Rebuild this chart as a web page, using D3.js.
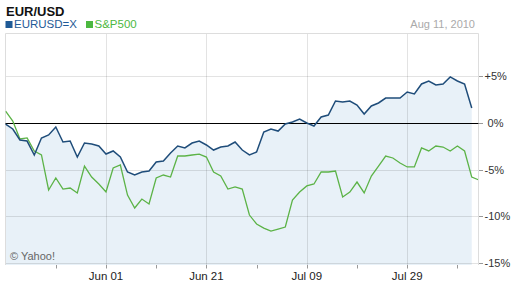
<!DOCTYPE html>
<html>
<head>
<meta charset="utf-8">
<script src="https://cdn.jsdelivr.net/npm/d3@7"></script>
<style>
  body { margin: 0; background: #fff; }
  text { font-family: "Liberation Sans", Arial, sans-serif; }
</style>
</head>
<body>
<div class="container"></div>
<script>
// trading days (weekdays) May 12 - Aug 12, 2010
var dates = [
  "May 12","May 13","May 14","May 17","May 18","May 19","May 20","May 21","May 24","May 25","May 26","May 27","May 28","May 31",
  "Jun 01","Jun 02","Jun 03","Jun 04","Jun 07","Jun 08","Jun 09","Jun 10","Jun 11","Jun 14","Jun 15","Jun 16","Jun 17","Jun 18",
  "Jun 21","Jun 22","Jun 23","Jun 24","Jun 25","Jun 28","Jun 29","Jun 30","Jul 01","Jul 02","Jul 05","Jul 06","Jul 07","Jul 08",
  "Jul 09","Jul 12","Jul 13","Jul 14","Jul 15","Jul 16","Jul 19","Jul 20","Jul 21","Jul 22","Jul 23","Jul 26","Jul 27","Jul 28",
  "Jul 29","Jul 30","Aug 02","Aug 03","Aug 04","Aug 05","Aug 06","Aug 09","Aug 10","Aug 11","Aug 12"
];

// % change, EURUSD=X
var eurusd = [
  -0.13,-0.66,-1.84,-1.95,-3.44,-1.63,-1.30,-0.45,-2.05,-1.95,-3.66,-2.16,-2.27,-2.48,
  -3.34,-3.01,-3.66,-5.26,-5.58,-5.26,-5.15,-4.19,-4.08,-3.23,-2.48,-2.69,-2.16,-1.95,
  -2.37,-2.91,-2.59,-2.48,-2.05,-2.91,-3.44,-3.12,-0.98,-0.66,-0.88,-0.13,0.09,0.41,
  -0.02,-0.34,0.62,0.83,2.33,2.22,2.33,1.90,0.94,1.80,2.12,2.65,2.65,2.65,
  3.29,3.08,4.15,4.47,4.04,4.15,4.90,4.47,4.15,1.58
];

// % change, S&P500
var sp500 = [
  1.26,0.19,-1.73,-1.62,-3.01,-3.44,-7.18,-5.90,-7.08,-6.97,-7.50,-4.62,-5.80,-6.54,
  -7.40,-4.83,-4.51,-7.72,-9.11,-8.15,-8.68,-5.90,-5.58,-5.80,-3.55,-3.55,-3.44,-3.34,
  -3.66,-5.26,-5.69,-7.08,-6.86,-7.08,-9.86,-10.82,-11.25,-11.57,-11.36,-11.14,-8.25,-7.40,
  -6.75,-6.54,-5.26,-5.26,-5.15,-7.93,-7.40,-6.33,-7.50,-5.69,-4.62,-3.55,-3.76,-4.30,
  -4.72,-4.72,-2.69,-3.01,-2.48,-2.59,-3.01,-2.48,-3.01,-5.80,-6.11
];

var yTicks = [5, 0, -5, -10, -15];
var yTickLabels = ["+5%", "\u00a00%", "-5%", "-10%", "-15%"];
var xLabelDates = ["Jun 01", "Jun 21", "Jul 09", "Jul 29"];
var xMinorDates = ["May 21", "Jun 10", "Jun 30", "Jul 20", "Aug 09"];

////////////////////////////////////////////////////////////////
// STAGE
////////////////////////////////////////////////////////////////
var W = 521, H = 289;
var pLeft = 5.5, pRight = 478, pTop = 33, pBottom = 265;

var svg = d3.select(".container").append("svg")
  .attr("width", W)
  .attr("height", H);

var x = d3.scaleLinear()
  .domain([0, 14])
  .range([5.6, 106]);

var y = d3.scaleLinear()
  .domain([-15.2, 9.6])
  .range([pBottom, pTop]);

function px(v) { return Math.round(v) + 0.5; }

svg.append("clipPath").attr("id", "plotclip")
  .append("rect")
  .attr("x", pLeft).attr("y", pTop)
  .attr("width", pRight - pLeft).attr("height", pBottom - pTop);

////////////////////////////////////////////////////////////////
// TITLE + LEGEND
////////////////////////////////////////////////////////////////
svg.append("text")
  .attr("x", 6).attr("y", 15.5)
  .attr("font-size", 13).attr("font-weight", "bold")
  .attr("fill", "#111")
  .text("EUR/USD");

var legend = [
  {name: "EURUSD=X", color: "#1f5a96", x: 5.5},
  {name: "S&P500", color: "#4cb83f", x: 86}
];
legend.forEach(function(d) {
  svg.append("rect")
    .attr("x", d.x).attr("y", 21)
    .attr("width", 7).attr("height", 7)
    .attr("fill", d.color);
  svg.append("text")
    .attr("x", d.x + 8.5).attr("y", 28.3)
    .attr("font-size", 11.5)
    .attr("fill", d.color)
    .text(d.name);
});

svg.append("text")
  .attr("x", 475).attr("y", 27.5)
  .attr("text-anchor", "end")
  .attr("font-size", 11)
  .attr("fill", "#aaa")
  .text("Aug 11, 2010");

////////////////////////////////////////////////////////////////
// AREA + GRID
////////////////////////////////////////////////////////////////
var area = d3.area()
  .x(function(d, i) { return x(i); })
  .y0(pBottom)
  .y1(function(d) { return y(d); });

svg.append("path")
  .datum(eurusd)
  .attr("d", area)
  .attr("fill", "#e8f1f8");

var grid = svg.append("g");
grid.selectAll("line.h")
  .data(yTicks.filter(function(d) { return d !== 0; }))
  .enter().append("line")
  .attr("x1", pLeft).attr("x2", pRight)
  .attr("y1", function(d) { return px(y(d)); })
  .attr("y2", function(d) { return px(y(d)); })
  .attr("stroke", "#000").attr("stroke-opacity", 0.11);

grid.selectAll("line.v")
  .data(xLabelDates)
  .enter().append("line")
  .attr("x1", function(d) { return px(x(dates.indexOf(d))); })
  .attr("x2", function(d) { return px(x(dates.indexOf(d))); })
  .attr("y1", pTop).attr("y2", pBottom)
  .attr("stroke", "#000").attr("stroke-opacity", 0.11);

svg.append("path")
  .attr("d", "M" + pLeft + "," + pBottom + "V" + (pTop + 0.5) + "H" + (pRight + 0.5) + "V" + pBottom)
  .attr("fill", "none")
  .attr("stroke", "#ddd");

svg.append("line")
  .attr("x1", pLeft).attr("x2", pRight + 0.5)
  .attr("y1", px(y(0))).attr("y2", px(y(0)))
  .attr("stroke", "#000").attr("stroke-width", 1);

////////////////////////////////////////////////////////////////
// SERIES LINES
////////////////////////////////////////////////////////////////
var line = d3.line()
  .x(function(d, i) { return x(i); })
  .y(function(d) { return y(d); });

svg.append("path")
  .datum(sp500)
  .attr("d", line)
  .attr("clip-path", "url(#plotclip)")
  .attr("fill", "none")
  .attr("stroke", "#5cb347")
  .attr("stroke-width", 1.3);

svg.append("path")
  .datum(eurusd)
  .attr("d", line)
  .attr("fill", "none")
  .attr("stroke", "#1f4d7a")
  .attr("stroke-width", 1.5);

////////////////////////////////////////////////////////////////
// AXES
////////////////////////////////////////////////////////////////
var ry = svg.append("g");
ry.selectAll("line")
  .data(yTicks)
  .enter().append("line")
  .attr("x1", 479).attr("x2", 483)
  .attr("y1", function(d) { return px(y(d)); })
  .attr("y2", function(d) { return px(y(d)); })
  .attr("stroke", "#999");
ry.selectAll("text")
  .data(yTicks)
  .enter().append("text")
  .attr("x", 484.5)
  .attr("y", function(d) { return y(d) + 4; })
  .attr("font-size", 11)
  .attr("fill", "#333")
  .text(function(d, i) { return yTickLabels[i]; });

var bx = svg.append("g");
bx.selectAll("line")
  .data(xMinorDates.concat(xLabelDates))
  .enter().append("line")
  .attr("x1", function(d) { return px(x(dates.indexOf(d))); })
  .attr("x2", function(d) { return px(x(dates.indexOf(d))); })
  .attr("y1", pBottom).attr("y2", pBottom + 3.5)
  .attr("stroke", "#999");
bx.selectAll("text")
  .data(xLabelDates)
  .enter().append("text")
  .attr("x", function(d) { return x(dates.indexOf(d)); })
  .attr("y", 280)
  .attr("text-anchor", "middle")
  .attr("font-size", 11.5)
  .attr("fill", "#222")
  .text(function(d) { return d; });

svg.append("text")
  .attr("x", 10).attr("y", 259.5)
  .attr("font-size", 11)
  .attr("fill", "#666")
  .text("\u00a9 Yahoo!");
</script>
</body>
</html>
